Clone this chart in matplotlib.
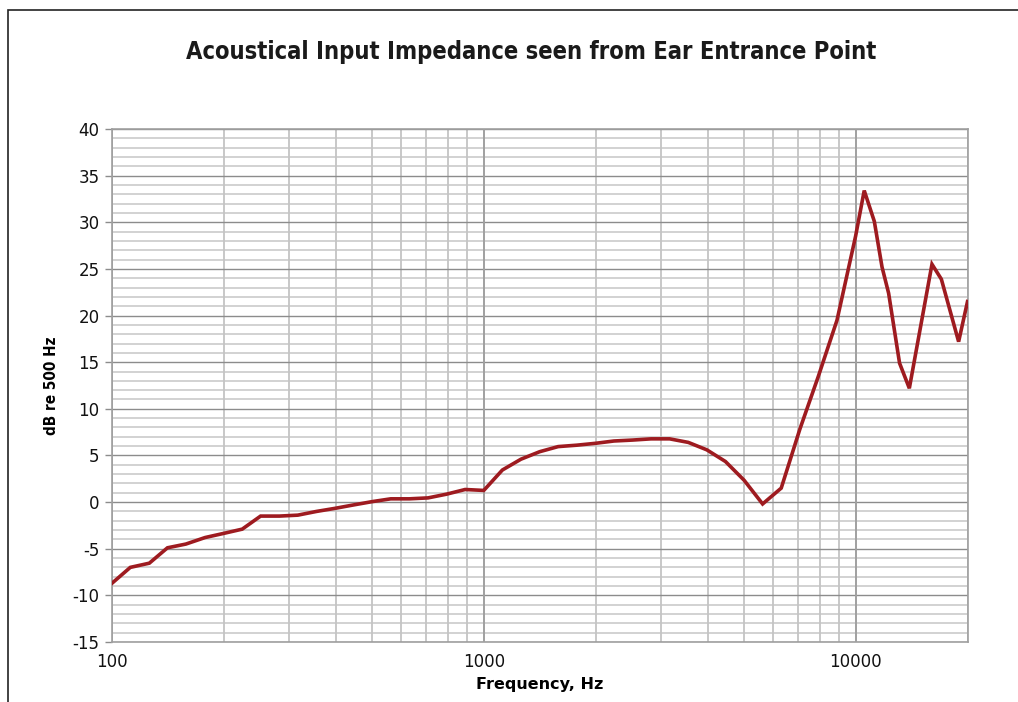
import matplotlib
matplotlib.use("Agg")
import matplotlib.pyplot as plt
from matplotlib.patches import Rectangle
from matplotlib.ticker import FixedLocator, NullFormatter, FixedFormatter

plt.rcParams["axes.unicode_minus"] = False

freqs = [100, 112, 126, 141, 158, 178, 200, 224, 251, 282, 316, 355, 398, 447,
         501, 562, 631, 708, 794, 891, 1000, 1122, 1259, 1413, 1585, 1778, 1995,
         2239, 2512, 2818, 3162, 3548, 3981, 4467, 5012, 5623, 6310, 7079, 7943,
         8913, 10000, 10550, 11230, 11780, 12270, 13130, 13950, 16050, 17010,
         18930, 20000]
db = [-8.7, -7.0, -6.55, -4.9, -4.5, -3.8, -3.35, -2.9, -1.5, -1.5, -1.4, -1.0,
      -0.67, -0.3, 0.05, 0.35, 0.35, 0.45, 0.85, 1.35, 1.25, 3.44, 4.6, 5.4,
      5.95, 6.1, 6.3, 6.55, 6.65, 6.78, 6.78, 6.4, 5.6, 4.35, 2.35, -0.2, 1.5,
      7.8, 13.5, 19.5, 28.5, 33.4, 30.1, 25.2, 22.4, 14.9, 12.2, 25.5, 23.9,
      17.2, 21.5]

x_major = [100, 1000, 10000]
x_labels = ["100", "1000", "10000"]
y_major = list(range(-15, 41, 5))

fig = plt.figure(figsize=(10.18, 7.02), dpi=100)
fig.patch.set_facecolor("white")
# outer frame (clipped at right/bottom like the reference)
fig.patches.append(Rectangle((8 / 1018, -0.05), 1.2, 1 - 10 / 702 + 0.05,
                             transform=fig.transFigure, fill=False,
                             edgecolor="#222222", linewidth=1.2))

ax = fig.add_axes([112 / 1018, 1 - 642 / 702, (967.5 - 112) / 1018, (642 - 129) / 702])
ax.set_xscale("log")
ax.set_xlim(100, 20000)
ax.set_ylim(-15, 40)

# grid lines
minor_x = [m * d for d in (100, 1000, 10000) for m in range(2, 10) if m * d <= 20000]
for y in range(-15, 41):
    if y % 5 == 0:
        ax.axhline(y, color="#8c8c8c", lw=1.0, zorder=1)
    else:
        ax.axhline(y, color="#d2d2d2", lw=1.4, zorder=0.5)
for x in minor_x:
    ax.axvline(x, color="#c4c4c4", lw=1.3, zorder=0.8)
for x in x_major:
    ax.axvline(x, color="#a0a0a0", lw=1.4, zorder=1)

ax.plot(freqs, db, color="#9E1B20", lw=2.6, zorder=3, solid_joinstyle="miter")

ax.xaxis.set_major_locator(FixedLocator(x_major))
ax.xaxis.set_major_formatter(FixedFormatter(x_labels))
ax.xaxis.set_minor_locator(FixedLocator(minor_x))
ax.xaxis.set_minor_formatter(NullFormatter())
ax.set_yticks(y_major)
ax.tick_params(axis="x", which="both", length=0, pad=8, labelsize=12)
ax.tick_params(axis="y", which="major", length=5, width=1, color="#8c8c8c",
               pad=4, labelsize=12)
for lab in ax.get_xticklabels() + ax.get_yticklabels():
    lab.set_family("DejaVu Sans")
    lab.set_color("#111111")

for s in ["left", "bottom", "right", "top"]:
    ax.spines[s].set_color("#a0a0a0")
    ax.spines[s].set_linewidth(1.2)

ax.set_xlabel("Frequency, Hz", fontsize=11.5, fontweight="bold", labelpad=4,
              family="DejaVu Sans")
ax.set_ylabel("dB re 500 Hz", fontsize=11, fontweight="bold", labelpad=10,
              family="DejaVu Sans", fontstretch="condensed")

fig.text(531 / 1018, 1 - 52 / 702, "Acoustical Input Impedance seen from Ear Entrance Point",
         ha="center", va="center", fontsize=17, fontweight="bold",
         family="DejaVu Sans", fontstretch="condensed", color="#1a1a1a")

fig.savefig("out.png", dpi=100, facecolor="white")
